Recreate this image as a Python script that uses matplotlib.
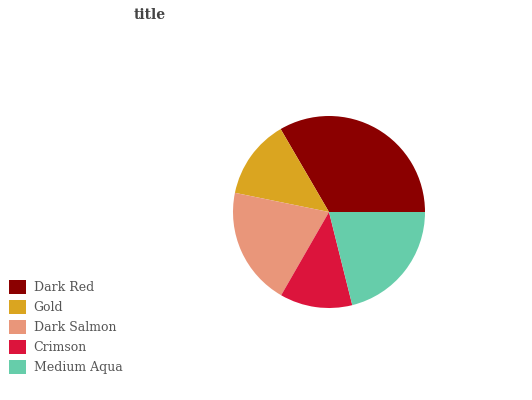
import matplotlib
matplotlib.use('Agg')
import matplotlib.pyplot as plt
from matplotlib.patches import Patch

labels = ['Dark Red', 'Gold', 'Dark Salmon', 'Crimson', 'Medium Aqua']
values = [33.4, 13.4, 19.9, 12.2, 21.1]
colors = ['#8B0000', '#DAA520', '#E9967A', '#DC143C', '#66CDAA']

plt.rcParams['font.family'] = ['DejaVu Serif']

fig = plt.figure(figsize=(5.32, 4.0), dpi=100)
ax = fig.add_axes([209 / 532, 68 / 400, 240 / 532, 240 / 400])
ax.pie(values, colors=colors, startangle=0, counterclock=True,
       wedgeprops={'linewidth': 0})
ax.set_aspect('equal')
ax.axis('off')

fig.text(150 / 532, 1 - 15 / 400, 'title', ha='center', va='center',
         fontsize=10, fontweight='bold', color='#444444')

handles = [Patch(facecolor=c, edgecolor='none') for c in colors]
fig.legend(handles, labels, loc='upper left', bbox_to_anchor=(4 / 532, 1 - 275 / 400),
           frameon=False, fontsize=9, handlelength=1.36, handleheight=1.36,
           handletextpad=0.6, labelspacing=0.46, labelcolor='#555555',
           borderaxespad=0)

fig.savefig('out.png', dpi=100)
